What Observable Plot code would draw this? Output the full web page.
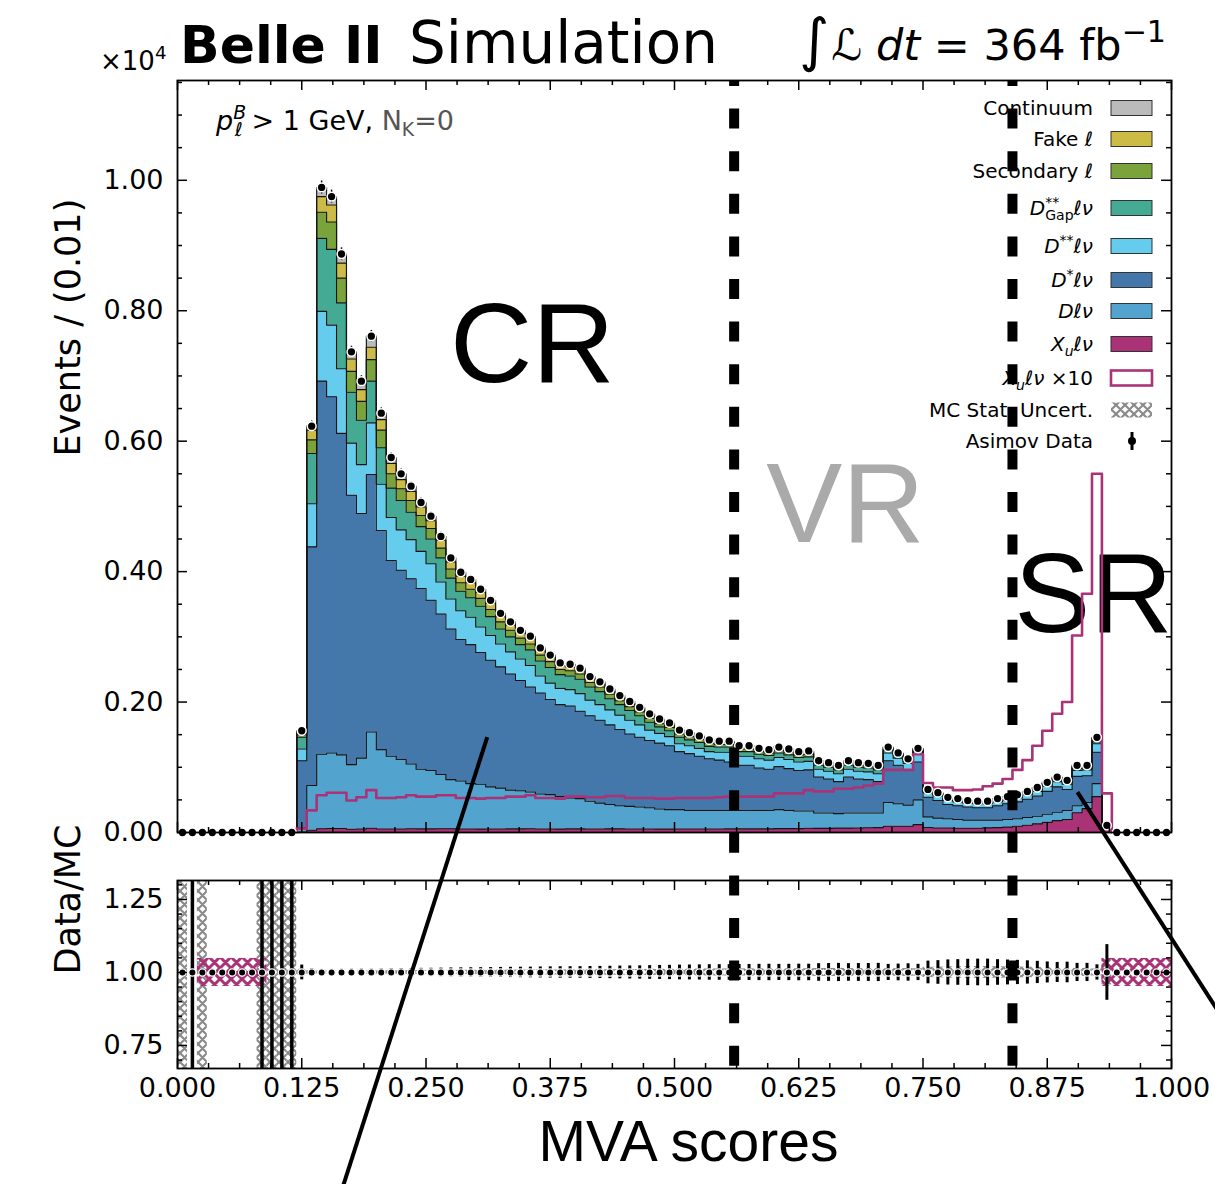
<!DOCTYPE html>
<html><head><meta charset="utf-8">
<script src="https://cdn.jsdelivr.net/npm/d3@7"></script>
<script src="https://cdn.jsdelivr.net/npm/@observablehq/plot@0.6"></script>
<style>
html,body{margin:0;padding:0;background:#fff;overflow:hidden}
#wrap{position:relative;width:1215px;height:1184px;overflow:hidden;background:#fff}
#wrap svg{position:absolute;left:0;top:0}
</style>
</head><body><div id="wrap"></div>
<script>
// ---------------- DATA (events / 1e4 per 0.01 bin) ----------------
const binWidth = 0.01;
const nBinsTotal = 100;
const firstFilledBin = 12; // bins 12..93 carry MC
const xuLnu = [
 .0006,.0034,.0057,.0061,.0061,.0049,.0054,.0065,.0053,.0053,
 .0054,.0057,.0055,.0055,.0057,.0057,.0053,.0053,.0052,.0053,
 .0053,.0055,.0055,.0057,.0053,.0053,.0052,.0055,.0055,.0054,
 .0054,.0056,.0056,.0053,.0053,.0053,.0052,.0052,.0053,.0053,
 .0053,.0053,.0054,.0055,.0055,.0055,.0055,.0055,.0060,.0060,
 .0060,.0065,.0063,.0063,.0067,.0067,.0069,.0072,.0075,.0096,
 .0096,.0096,.0120,.0076,.0069,.0069,.0065,.0065,.0066,.0071,
 .0075,.0082,.0096,.0111,.0133,.0156,.0182,.0200,.0302,.0366,
 .0550,.0060];
const dLnu = [
 .0074,.0686,.1143,.1159,.1129,.0991,.1086,.1475,.1217,.1117,
 .1066,.0993,.0915,.0895,.0833,.0753,.0737,.0697,.0688,.0647,
 .0627,.0595,.0585,.0563,.0537,.0527,.0498,.0475,.0465,.0426,
 .0396,.0374,.0354,.0347,.0337,.0327,.0308,.0298,.0297,.0287,
 .0287,.0287,.0286,.0285,.0285,.0285,.0285,.0285,.0290,.0280,
 .0270,.0265,.0237,.0237,.0223,.0233,.0231,.0228,.0225,.0364,
 .0344,.0324,.0380,.0164,.0151,.0141,.0135,.0125,.0124,.0119,
 .0115,.0118,.0114,.0119,.0117,.0124,.0128,.0140,.0108,.0094,
 .0200,.0020];
const dstarLnu = [
 .102,.366,.572,.546,.493,.413,.375,.395,.336,.300,
 .290,.284,.277,.261,.246,.231,.217,.213,.202,.194,
 .186,.178,.169,.161,.155,.146,.141,.141,.134,.131,
 .127,.122,.117,.111,.107,.103,.101,.098,.089,.087,
 .083,.079,.077,.074,.069,.069,.065,.063,.066,.064,
 .062,.063,.055,.052,.049,.055,.052,.051,.048,.064,
 .059,.054,.058,.030,.027,.022,.021,.020,.019,.019,
 .022,.024,.026,.028,.031,.035,.039,.032,.045,.041,
 .048,.002];
const dssLnu = [
 .018,.066,.107,.110,.099,.080,.075,.079,.071,.066,
 .062,.060,.057,.056,.049,.046,.044,.042,.039,.038,
 .035,.034,.033,.033,.026,.025,.025,.025,.027,.024,
 .024,.023,.022,.021,.019,.016,.015,.014,.012,.012,
 .012,.011,.012,.015,.014,.014,.014,.014,.014,.014,
 .013,.013,.012,.012,.012,.012,.012,.012,.012,.012,
 .011,.010,.013,.007,.007,.006,.006,.006,.006,.006,
 .006,.006,.006,.007,.007,.008,.008,.008,.009,.009,
 .013,.000];
const dssGapLnu = [
 .018,.077,.112,.116,.101,.078,.068,.064,.056,.045,
 .045,.042,.038,.038,.037,.032,.030,.030,.032,.029,
 .023,.023,.022,.024,.023,.024,.021,.021,.022,.020,
 .020,.017,.016,.015,.014,.012,.010,.009,.010,.009,
 .009,.008,.008,.008,.007,.007,.007,.007,.007,.007,
 .007,.007,.006,.006,.006,.006,.006,.006,.006,.004,
 .004,.003,.004,.002,.002,.002,.002,.002,.002,.002,
 .002,.002,.002,.002,.003,.003,.003,.003,.003,.003,
 .003,.001];
const secondaryLep = [
 .004,.021,.040,.042,.038,.032,.029,.033,.027,.022,
 .018,.018,.017,.016,.015,.014,.013,.013,.012,.011,
 .011,.010,.010,.009,.009,.009,.008,.008,.008,.007,
 .007,.007,.006,.006,.006,.006,.005,.005,.005,.005,
 .005,.005,.004,.004,.004,.004,.004,.004,.004,.004,
 .004,.004,.003,.003,.003,.003,.003,.003,.003,.002,
 .002,.002,.002,.001,.001,.001,.001,.001,.001,.001,
 .001,.001,.001,.001,.001,.001,.002,.001,.002,.001,
 .002,.000];
const fakeLep = [
 .003,.015,.024,.026,.023,.019,.018,.019,.016,.016,
 .014,.014,.013,.012,.012,.011,.010,.010,.009,.009,
 .008,.008,.008,.008,.007,.007,.006,.006,.006,.006,
 .005,.005,.005,.005,.005,.005,.004,.004,.004,.004,
 .003,.003,.003,.003,.003,.003,.003,.003,.003,.003,
 .003,.003,.002,.002,.002,.002,.002,.002,.002,.002,
 .001,.001,.001,.001,.001,.001,.001,.001,.001,.001,
 .001,.001,.001,.001,.001,.001,.001,.001,.001,.001,
 .003,.000];
const continuum = [
 .003,.006,.014,.013,.014,.011,.013,.017,.010,.009,
 .009,.008,.007,.007,.006,.006,.006,.005,.005,.005,
 .005,.005,.004,.004,.004,.003,.004,.004,.003,.003,
 .003,.003,.003,.003,.002,.002,.003,.003,.002,.002,
 .002,.002,.002,.002,.002,.002,.002,.002,.002,.002,
 .002,.002,.002,.002,.002,.002,.002,.002,.002,.001,
 .001,.001,.001,.001,.001,.001,.001,.000,.000,.000,
 .001,.001,.001,.001,.001,.001,.001,.001,.002,.002,
 .002,.000];
const xuScaleFactor = 10;
const mcLumiFactor = 5; // MC sample size relative to data
// ratio-panel features
const ratioUndefinedBins = [0, 2, 8, 9, 10, 11];
const ratioInfErrBins = [1, 8, 9, 10, 11];
const xuRatioBands = [[0.02, 0.09], [0.93, 1.0]];
// tick labels
const xTickLabels = [0, 0.125, 0.25, 0.375, 0.5, 0.625, 0.75, 0.875, 1.0];
const yMainTickLabels = [0, 0.2, 0.4, 0.6, 0.8, 1.0];
const yRatioTickLabels = [0.75, 1.0, 1.25];
const regionBoundaries = [0.56, 0.84];
const regionNames = ["CR", "VR", "SR"];
// annotation lines [x1,y1,x2,y2] in main-panel coordinates
const zoomLines = [[0.3116, 0.1462, 0.1628, -0.56], [0.9054, 0.0618, 1.06, -0.305]];

// ---------------- LAYOUT ----------------
const W = 1215, H = 1184;
const FL = 177, FR = 1171;
const MAIN_TOP = 80, MAIN_BOT = 832, RAT_TOP = 880, RAT_BOT = 1068;
const Y_MAIN_MAX = 1.153;
const RATIO_DOMAIN = [0.671, 1.315];
const FW = FR - FL;
const baseStyle = {fontFamily: "DejaVu Sans", fontSize: "27px", color: "black", background: "transparent", overflow: "visible"};

const comps = [
  {key: "Xu",    color: "#aa3377", values: xuLnu},
  {key: "D",     color: "#52a3cd", values: dLnu},
  {key: "Dst",   color: "#4477aa", values: dstarLnu},
  {key: "Dss",   color: "#66ccee", values: dssLnu},
  {key: "Gap",   color: "#44aa93", values: dssGapLnu},
  {key: "Sec",   color: "#7aa43b", values: secondaryLep},
  {key: "Fake",  color: "#ccbb44", values: fakeLep},
  {key: "Cont",  color: "#bbbbbb", values: continuum}
];
const nB = xuLnu.length;
let cum = new Array(nB).fill(0);
comps.forEach(c => { c.lo = cum.slice(); c.hi = cum.map((v, i) => v + c.values[i]); cum = c.hi; });
const totalMC = cum;
const x0 = firstFilledBin * binWidth, xEnd = (firstFilledBin + nB) * binWidth;

function areaRows(lo, hi) {
  const r = [];
  for (let i = 0; i < nB; i++) r.push({x: (firstFilledBin + i) * binWidth, lo: lo[i], hi: hi[i]});
  r.push({x: xEnd, lo: lo[nB - 1], hi: hi[nB - 1]});
  return r;
}
function outlineRows(hi) {
  const r = [{x: x0, y: 0}];
  for (let i = 0; i < nB; i++) r.push({x: (firstFilledBin + i) * binWidth, y: hi[i]});
  r.push({x: xEnd, y: 0});
  return r;
}
const allBins = d3.range(nBinsTotal).map(b => {
  const i = b - firstFilledBin;
  const t = (i >= 0 && i < nB) ? totalMC[i] : 0;
  return {b, xc: (b + 0.5) * binWidth, total: t, N: t * 1e4};
});
const filled = allBins.filter(d => d.N > 0);
const xu10Rows = outlineRows(xuLnu.map(v => v * xuScaleFactor));

function frameTicks(xMaj, xMin, yMaj, yMin, fh) {
  const L = 10, l = 5, sw = 1.5;
  return [
    Plot.ruleX(xMaj, {x: d => d, insetTop: fh - L, strokeWidth: sw}),
    Plot.ruleX(xMaj, {x: d => d, insetBottom: fh - L, strokeWidth: sw}),
    Plot.ruleX(xMin, {x: d => d, insetTop: fh - l, strokeWidth: sw}),
    Plot.ruleX(xMin, {x: d => d, insetBottom: fh - l, strokeWidth: sw}),
    Plot.ruleY(yMaj, {y: d => d, insetRight: FW - L, strokeWidth: sw}),
    Plot.ruleY(yMaj, {y: d => d, insetLeft: FW - L, strokeWidth: sw}),
    Plot.ruleY(yMin, {y: d => d, insetRight: FW - l, strokeWidth: sw}),
    Plot.ruleY(yMin, {y: d => d, insetLeft: FW - l, strokeWidth: sw})
  ];
}
const xMinor = d3.range(0, 33).map(k => k * 0.03125).filter(v => !xTickLabels.includes(v));
const yMainMinor = d3.range(0, 24).map(k => k * 0.05).filter((v, k) => k % 4 !== 0);
const yRatioMinor = d3.range(14, 27).map(k => k * 0.05).filter(v => !yRatioTickLabels.some(t => Math.abs(t - v) < 1e-9));

// ---------------- MAIN PANEL ----------------
const regionLayout = {CR: [0.357, 0.690, "black"], VR: [0.672, 0.445, "#aaaaaa"], SR: [0.9215, 0.307, "black"]};
const main = Plot.plot({
  width: W, height: H, marginLeft: FL, marginRight: W - FR, marginTop: MAIN_TOP, marginBottom: H - MAIN_BOT,
  x: {domain: [0, 1], axis: null},
  y: {domain: [0, Y_MAIN_MAX], axis: null},
  style: baseStyle,
  marks: [
    ...comps.map(c => Plot.areaY(areaRows(c.lo, c.hi), {x: "x", y1: "lo", y2: "hi", curve: "step-after", fill: c.color})),
    ...comps.map(c => Plot.line(outlineRows(c.hi), {x: "x", y: "y", curve: "step-after", stroke: "#151515", strokeWidth: 1.1})),
    Plot.text(regionNames, {x: d => regionLayout[d][0], y: d => regionLayout[d][1], text: d => d, fill: d => regionLayout[d][2],
      fontSize: 114, fontFamily: "Liberation Sans", lineAnchor: "bottom", textAnchor: "middle"}),
    Plot.line(xu10Rows, {x: "x", y: "y", curve: "step-after", stroke: "#aa3377", strokeWidth: 2.6}),
    Plot.ruleX(filled, {x: "xc", y1: d => d.total - Math.sqrt(d.N) / 1e4, y2: d => d.total + Math.sqrt(d.N) / 1e4, stroke: "black", strokeWidth: 1.5}),
    Plot.dot(allBins, {x: "xc", y: "total", r: 4.4, fill: "black", stroke: "white", strokeWidth: 1.5}),
    ...frameTicks(xTickLabels, xMinor, yMainTickLabels, yMainMinor, MAIN_BOT - MAIN_TOP),
    Plot.frame({stroke: "black", strokeWidth: 1.8}),
    Plot.axisY({ticks: yMainTickLabels, tickFormat: d3.format(".2f"), tickSize: 0, tickPadding: 14, label: null}),
    Plot.text(["Events / (0.01)"], {frameAnchor: "left", dx: -109, rotate: -90, fontSize: 35, text: d => d})
  ]
});

// ---------------- RATIO PANEL ----------------
const ratio = Plot.plot({
  width: W, height: H, marginLeft: FL, marginRight: W - FR, marginTop: RAT_TOP, marginBottom: H - RAT_BOT,
  x: {domain: [0, 1], axis: null},
  y: {domain: RATIO_DOMAIN, axis: null},
  style: baseStyle,
  marks: [
    Plot.rect(ratioUndefinedBins, {x1: b => b * binWidth, x2: b => (b + 1) * binWidth, fill: "url(#hatchGray)"}),
    Plot.rect(filled, {x1: d => d.b * binWidth, x2: d => (d.b + 1) * binWidth,
      y1: d => 1 - 1 / Math.sqrt(d.N * mcLumiFactor), y2: d => 1 + 1 / Math.sqrt(d.N * mcLumiFactor), fill: "url(#hatchGray)"}),
    Plot.rect(xuRatioBands, {x1: d => d[0], x2: d => d[1], y1: 0.952, y2: 1.048, fill: "url(#hatchMag)"}),
    Plot.ruleX(ratioInfErrBins, {x: b => (b + 0.5) * binWidth, stroke: "black", strokeWidth: 3.5}),
    Plot.ruleX(filled, {x: "xc", y1: d => 1 - 1 / Math.sqrt(d.N), y2: d => 1 + 1 / Math.sqrt(d.N), stroke: "black", strokeWidth: 3}),
    Plot.dot(allBins, {x: "xc", y: 1, r: 3.6, fill: "black", stroke: "white", strokeWidth: 1.2}),
    ...frameTicks(xTickLabels, xMinor, yRatioTickLabels, yRatioMinor, RAT_BOT - RAT_TOP),
    Plot.frame({stroke: "black", strokeWidth: 1.8}),
    Plot.axisY({ticks: yRatioTickLabels, tickFormat: d3.format(".2f"), tickSize: 0, tickPadding: 14, label: null}),
    Plot.axisX({ticks: xTickLabels, tickFormat: d3.format(".3f"), tickSize: 0, tickPadding: 9, label: null}),
    Plot.text(["Data/MC"], {frameAnchor: "left", dx: -109, rotate: -90, fontSize: 35, text: d => d}),
    Plot.text(["MVA scores"], {frameAnchor: "bottom", dx: 14, dy: 92, fontSize: 57, fontFamily: "Liberation Sans", text: d => d})
  ]
});

// ---------------- OVERLAY (region boundaries, zoom lines) ----------------
const overlay = Plot.plot({
  width: W, height: H, marginLeft: FL, marginRight: W - FR, marginTop: MAIN_TOP, marginBottom: H - RAT_BOT,
  x: {domain: [0, 1], axis: null},
  y: {domain: [0, Y_MAIN_MAX], range: [MAIN_BOT, MAIN_TOP], axis: null},
  style: baseStyle,
  marks: [
    Plot.ruleX(regionBoundaries, {x: d => d, stroke: "black", strokeWidth: 10, strokeDasharray: "20 22.6", strokeDashoffset: 14}),
    Plot.link(zoomLines, {x1: d => d[0], y1: d => d[1], x2: d => d[2], y2: d => d[3], stroke: "black", strokeWidth: 4})
  ]
});

const wrap = document.getElementById("wrap");
[main, ratio, overlay].forEach(s => { s.style.position = "absolute"; s.style.left = "0px"; s.style.top = "0px"; wrap.appendChild(s); });

// patterns
d3.select(main).insert("defs", ":first-child").html(`
  <pattern id="hatchGray" patternUnits="userSpaceOnUse" width="9" height="9">
    <path d="M0,0L9,9M9,0L0,9M-2,7L2,11M7,-2L11,2M-2,2L2,-2M7,11L11,7" stroke="#8a8a8a" stroke-width="2.2"/>
  </pattern>
  <pattern id="hatchMag" patternUnits="userSpaceOnUse" width="11" height="11">
    <path d="M0,0L11,11M11,0L0,11M-3,8L3,14M8,-3L14,3M-3,3L3,-3M8,14L14,8" stroke="#aa3377" stroke-width="3"/>
  </pattern>`);

// ---------------- TEXT HELPERS ----------------
function rich(sel, parts, size) {
  let off = 0;
  parts.forEach(p => {
    const [t, st = "", extra = {}] = p;
    let target = 0, fs = size;
    if (st.includes("sup")) { target = -0.42 * size; fs = size * 0.7; }
    if (st.includes("sub")) { target = 0.24 * size; fs = size * 0.7; }
    if (extra.fs) fs = extra.fs;
    const ts = sel.append("tspan").text(t).attr("font-size", fs).attr("dy", target - off);
    off = target;
    if (st.startsWith("i")) ts.attr("font-style", "italic");
    if (extra.dx !== undefined) ts.attr("dx", extra.dx);
    if (extra.fill) ts.attr("fill", extra.fill);
    if (extra.family) ts.attr("font-family", extra.family);
    if (extra.weight) ts.attr("font-weight", extra.weight);
  });
}
const g = d3.select(main).append("g").attr("font-family", "DejaVu Sans").attr("fill", "black").attr("text-anchor", "start");

// title
g.append("text").attr("x", 180).attr("y", 63).attr("font-size", 52).attr("font-weight", "bold").text("Belle II");
g.append("text").attr("x", 409).attr("y", 63).attr("font-size", 58).text("Simulation");
rich(g.append("text").attr("x", 100).attr("y", 70), [["×10"], ["4", "sup"]], 26);
rich(g.append("text").attr("x", 1166).attr("y", 60).attr("text-anchor", "end"),
  [["∫", "", {fs: 58}], ["ℒ", "i", {dx: 2}], [" dt", "i"], [" = 364 fb"], ["−1", "sup"]], 43);
// cut label
rich(g.append("text").attr("x", 216).attr("y", 130),
  [["p", "i"], ["B", "isup"], ["ℓ", "isub", {dx: -11}], [" > 1 GeV, "], ["N", "", {fill: "#555"}], ["K", "sub", {fill: "#555"}], ["=0", "", {fill: "#555"}]], 27);

// legend
const legendEntries = [
  {parts: [["Continuum"]], fill: "#bbbbbb", cy: 108},
  {parts: [["Fake "], ["ℓ", "i"]], fill: "#ccbb44", cy: 139},
  {parts: [["Secondary "], ["ℓ", "i"]], fill: "#7aa43b", cy: 171},
  {parts: [["D", "i"], ["**", "sup"], ["Gap", "sub", {dx: -14}], ["ℓν", "i"]], fill: "#44aa93", cy: 208},
  {parts: [["D", "i"], ["**", "sup"], ["ℓν", "i"]], fill: "#66ccee", cy: 246},
  {parts: [["D", "i"], ["*", "sup"], ["ℓν", "i"]], fill: "#4477aa", cy: 280},
  {parts: [["Dℓν", "i"]], fill: "#52a3cd", cy: 311},
  {parts: [["X", "i"], ["u", "isub"], ["ℓν", "i"]], fill: "#aa3377", cy: 344},
  {parts: [["X", "i"], ["u", "isub"], ["ℓν", "i"], [" ×10"]], fill: "white", stroke: "#aa3377", sw: 2.6, cy: 378},
  {parts: [["MC Stat. Uncert."]], fill: "url(#hatchGray)", stroke: "none", cy: 410},
  {parts: [["Asimov Data"]], dot: true, cy: 441}
];
const lg = g.append("g");
legendEntries.forEach(e => {
  rich(lg.append("text").attr("x", 1093).attr("y", e.cy + 7).attr("text-anchor", "end"), e.parts, 20);
  if (e.dot) {
    lg.append("line").attr("x1", 1132).attr("x2", 1132).attr("y1", e.cy - 9).attr("y2", e.cy + 9).attr("stroke", "black").attr("stroke-width", 3);
    lg.append("circle").attr("cx", 1132).attr("cy", e.cy).attr("r", 4).attr("fill", "black");
  } else {
    lg.append("rect").attr("x", 1111).attr("y", e.cy - 7.5).attr("width", 41).attr("height", 15)
      .attr("fill", e.fill).attr("stroke", e.stroke || "#333").attr("stroke-width", e.sw || 1);
  }
});
</script>
</body></html>
